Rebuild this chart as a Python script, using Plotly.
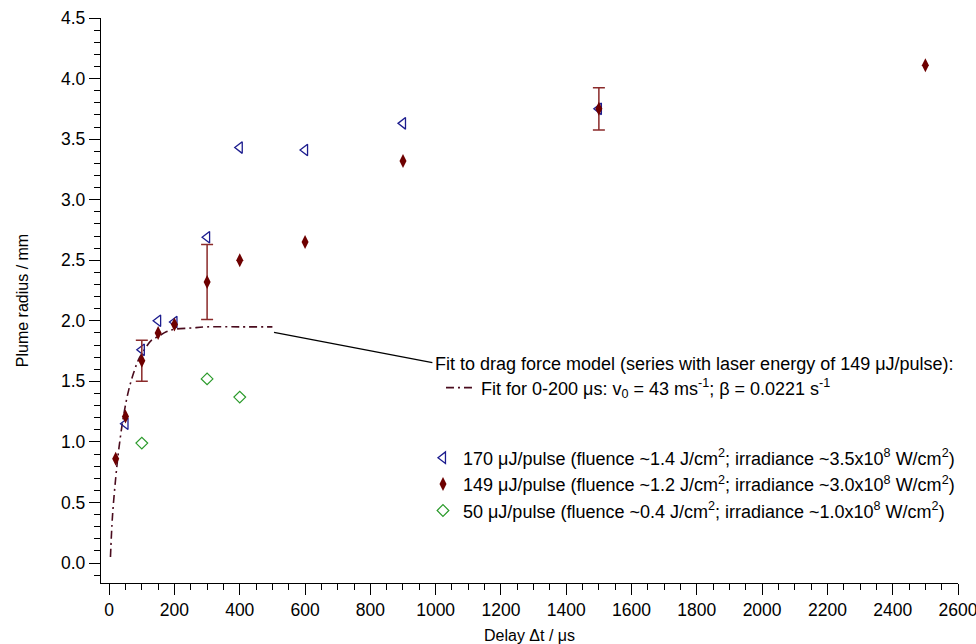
import numpy as np
import plotly.graph_objects as go

# ---------------- data ----------------
t_170 = [50, 100, 150, 200, 300, 400, 600, 900, 1500]
r_170 = [1.15, 1.76, 2.00, 1.99, 2.69, 3.43, 3.41, 3.63, 3.75]

t_149 = [20, 50, 100, 150, 200, 300, 400, 600, 900, 1500, 2500]
r_149 = [0.86, 1.21, 1.67, 1.90, 1.97, 2.32, 2.50, 2.65, 3.32, 3.75, 4.11]
err_149 = [np.nan, np.nan, 0.17, np.nan, np.nan, 0.31, np.nan, np.nan, np.nan, 0.175, np.nan]

t_50 = [100, 300, 400]
r_50 = [0.99, 1.52, 1.37]

# fit curve
fit_t = [4, 10, 20, 30, 45, 60, 75, 90, 110, 130, 150, 175, 200, 250, 300, 400, 500]
fit_r = [0.05, 0.38, 0.70, 0.95, 1.23, 1.43, 1.57, 1.68, 1.77, 1.84, 1.87, 1.91, 1.93, 1.94, 1.95, 1.95, 1.95]

# ---------------- styles ----------------
FONT = "Liberation Sans, Arial, Helvetica, sans-serif"
NAVY = "#1c1c8e"
MAROON = "#6e0000"
ERRC = "#8a2a2a"
GREEN = "#2a9a2a"
FITC = "#4a0c1e"
LEG_SIZE = 18
TICK_SIZE = 17.5
TITLE_SIZE = 16

fig = go.Figure()

fig.add_trace(go.Scatter(
    x=fit_t, y=fit_r, mode="lines", line_shape="spline",
    line=dict(color=FITC, width=1.6, dash="8px,4px,2px,4px"),
    name="Fit for 0-200 μs: v<sub>0</sub> = 43 ms<sup>-1</sup>; β = 0.0221 s<sup>-1</sup>",
    legend="legend",
))

fig.add_trace(go.Scatter(
    x=t_170, y=r_170, mode="markers",
    marker=dict(symbol="triangle-left-open", size=10, color=NAVY, line=dict(width=1.3, color=NAVY)),
    name="170 μJ/pulse (fluence ~1.4 J/cm<sup>2</sup>; irradiance ~3.5x10<sup>8</sup> W/cm<sup>2</sup>)",
    legend="legend2",
))

fig.add_trace(go.Scatter(
    x=t_149, y=r_149, mode="markers",
    marker=dict(symbol="diamond-tall", size=10, color=MAROON, line=dict(width=0)),
    error_y=dict(type="data", array=np.array(err_149, dtype=float), visible=True,
                 color=ERRC, thickness=1.5, width=6),
    name="149 μJ/pulse (fluence ~1.2 J/cm<sup>2</sup>; irradiance ~3.0x10<sup>8</sup> W/cm<sup>2</sup>)",
    legend="legend2",
))

fig.add_trace(go.Scatter(
    x=t_50, y=r_50, mode="markers",
    marker=dict(symbol="diamond-open", size=9, color=GREEN, line=dict(width=1.2, color=GREEN)),
    name="50 μJ/pulse (fluence ~0.4 J/cm<sup>2</sup>; irradiance ~1.0x10<sup>8</sup> W/cm<sup>2</sup>)",
    legend="legend2",
))

# header text and leader line for the fit legend
fig.add_annotation(
    xref="paper", yref="paper", x=0.3874, y=0.3876, xanchor="left", yanchor="middle",
    text="Fit to drag force model (series with laser energy of 149 μJ/pulse):",
    showarrow=False, font=dict(family=FONT, size=LEG_SIZE, color="black"),
)
fig.add_shape(type="line", xref="x", yref="y", x0=505, y0=1.905, x1=990, y1=1.655,
              line=dict(color="black", width=1.3))

fig.update_layout(
    width=976, height=644,
    margin=dict(l=101, r=18, t=18, b=61),
    paper_bgcolor="white", plot_bgcolor="white",
    font=dict(family=FONT, size=16, color="black"),
    showlegend=True,
    legend=dict(x=0.3967, y=0.378, xanchor="left", yanchor="top",
                bgcolor="rgba(0,0,0,0)", font=dict(family=FONT, size=LEG_SIZE, color="black")),
    legend2=dict(x=0.3757, y=0.254, xanchor="left", yanchor="top",
                 bgcolor="rgba(0,0,0,0)", font=dict(family=FONT, size=LEG_SIZE, color="black"),
                 tracegroupgap=0),
    xaxis=dict(
        range=[-25, 2600], showgrid=False, zeroline=False, automargin=False,
        showline=True, linecolor="black", linewidth=1.3,
        ticks="outside", ticklen=11, tickwidth=1.2, tickcolor="black",
        tick0=0, dtick=200, ticklabeloverflow="allow",
        minor=dict(ticks="outside", ticklen=6, tickwidth=1.2, tickcolor="black", dtick=50, showgrid=False),
        title=dict(text="Delay Δt / μs", font=dict(family=FONT, size=TITLE_SIZE), standoff=10),
        tickfont=dict(family=FONT, size=TICK_SIZE),
    ),
    yaxis=dict(
        range=[-0.165, 4.5], showgrid=False, zeroline=False, automargin=False,
        showline=True, linecolor="black", linewidth=1.3,
        ticks="outside", ticklen=11, tickwidth=1.2, tickcolor="black",
        tick0=0, dtick=0.5, tickformat=".1f", ticklabeloverflow="allow",
        minor=dict(ticks="outside", ticklen=6, tickwidth=1.2, tickcolor="black", dtick=0.1, showgrid=False),
        title=dict(text="Plume radius / mm", font=dict(family=FONT, size=TITLE_SIZE), standoff=28),
        tickfont=dict(family=FONT, size=TICK_SIZE),
    ),
)

fig.write_html(
    "out.html",
    config={"displayModeBar": False},
    post_script="document.body.style.margin='0';document.body.style.padding='0';"
                "document.body.style.overflow='hidden';",
)
